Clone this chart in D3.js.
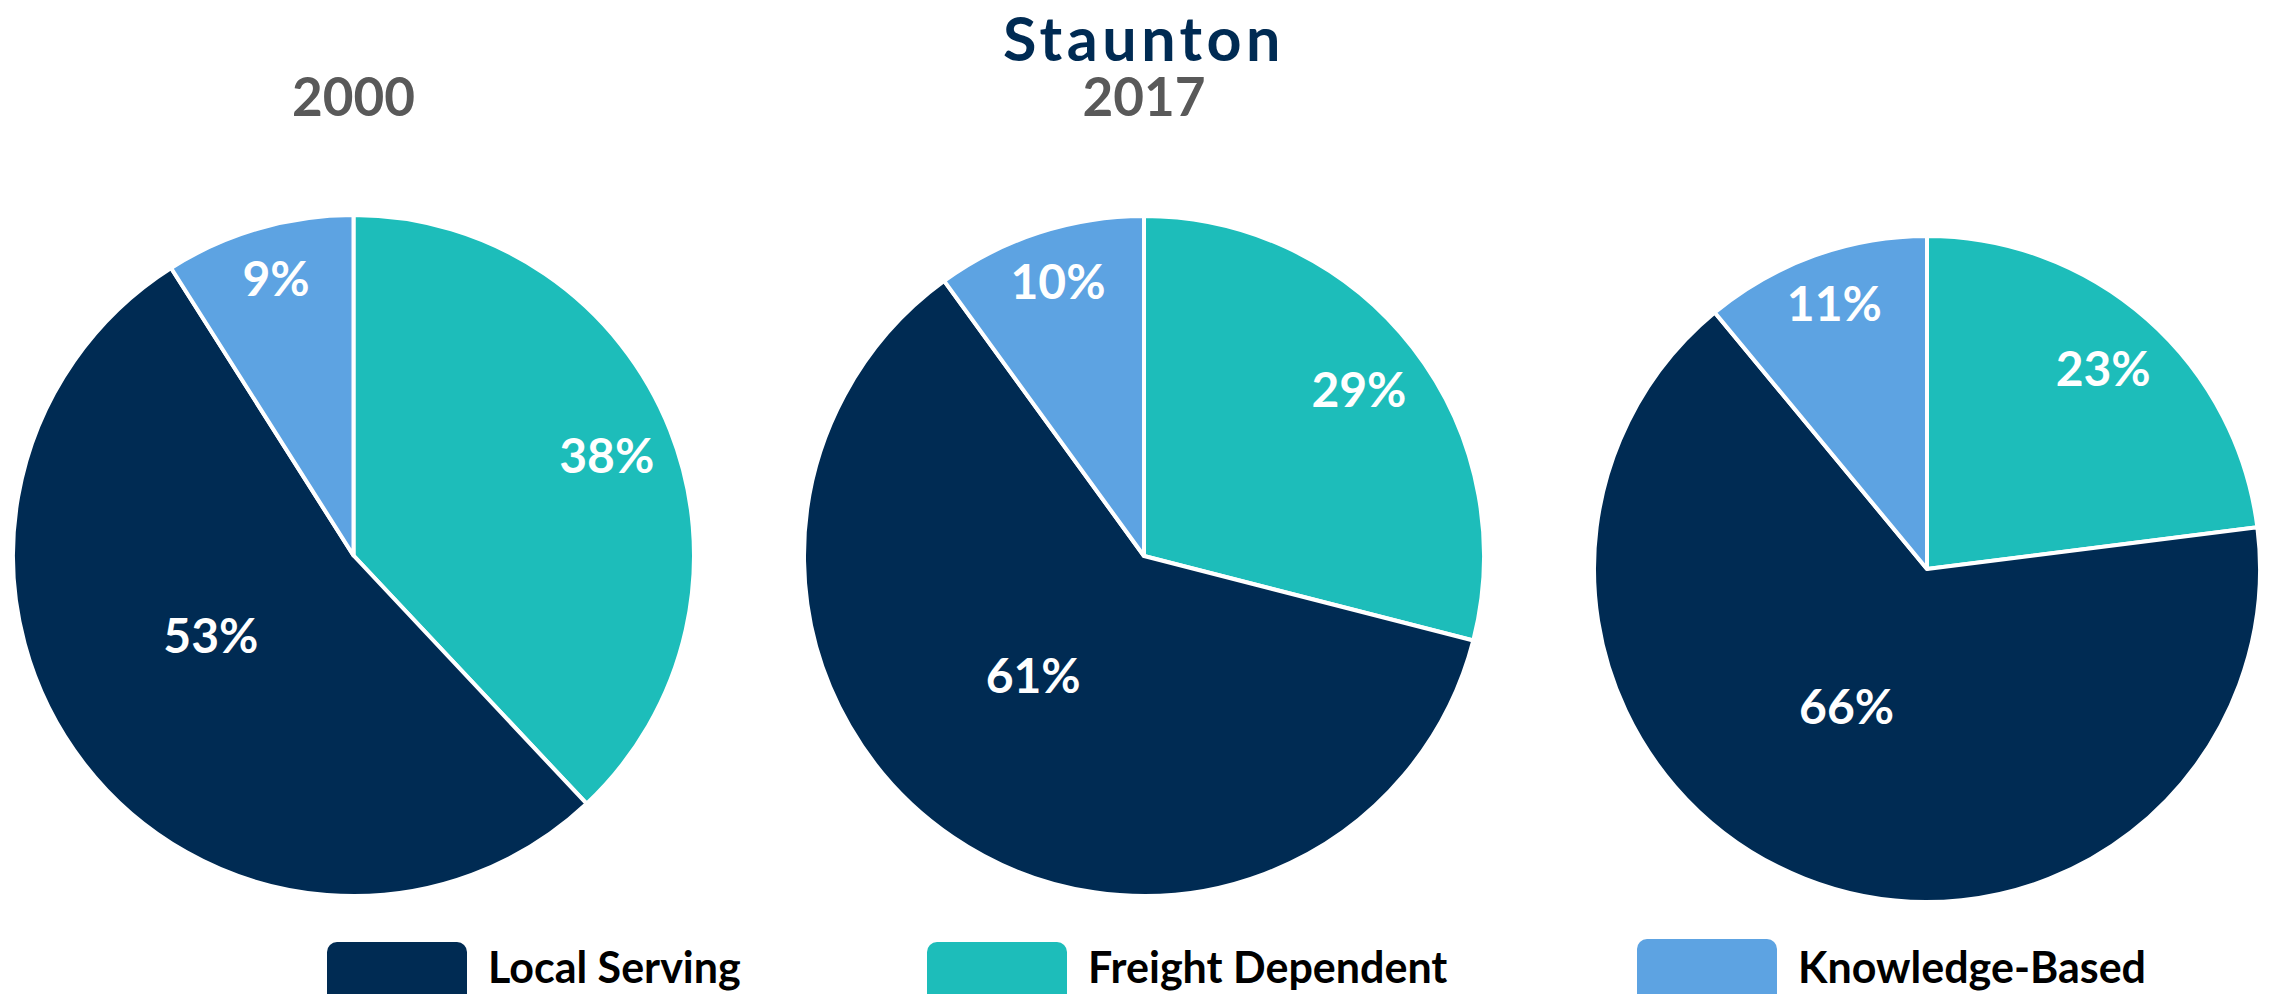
<!DOCTYPE html>
<html>
<head>
<meta charset="utf-8">
<script src="https://cdn.jsdelivr.net/npm/d3@7"></script>
<style>
  html, body { margin: 0; padding: 0; background: #ffffff; }
  svg { display: block; }
  text { font-family: Lato, "Open Sans", sans-serif; font-weight: 700; }
</style>
</head>
<body>
<svg id="chart" width="2269" height="994"></svg>
<script>
// Employment shares by sector, Staunton
const title = "Staunton";
const categories = ["Local Serving", "Freight Dependent", "Knowledge-Based"];
const sliceOrder = ["Freight Dependent", "Local Serving", "Knowledge-Based"]; // clockwise from 12 o'clock
const yearLabels = ["2000", "2017", ""];
const localServing     = [53, 61, 66];
const freightDependent = [38, 29, 23];
const knowledgeBased   = [9, 10, 11];

const colors = {
  "Local Serving": "#002B53",
  "Freight Dependent": "#1DBDBA",
  "Knowledge-Based": "#5DA3E2"
};

// label placement: fraction of radius and angular nudge (radians) per sector
const labelPlacement = {
  "Local Serving": { r: 0.48, nudge: 0.15 },
  "Freight Dependent": { r: 0.80, nudge: 0 },
  "Knowledge-Based": { r: 0.845, nudge: 0.01 }
};

// pie frames
const frames = [
  { cx: 353.5, cy: 555.5, r: 340.5 },
  { cx: 1144,  cy: 556,   r: 340 },
  { cx: 1927,  cy: 569,   r: 333 }
];

const svg = d3.select("#chart");

svg.append("text")
  .attr("x", 1144).attr("y", 61)
  .attr("text-anchor", "middle")
  .attr("fill", "#002B53")
  .attr("font-size", 61)
  .attr("letter-spacing", 4.5)
  .text(title);

const valueOf = (cat, i) =>
  cat === "Local Serving" ? localServing[i] :
  cat === "Freight Dependent" ? freightDependent[i] : knowledgeBased[i];

const pie = d3.pie().sort(null).value(d => d.value);

frames.forEach((f, i) => {
  const rows = sliceOrder.map(cat => ({ cat, value: valueOf(cat, i) }));
  const arcs = pie(rows);
  const arc = d3.arc().innerRadius(0).outerRadius(f.r);

  const g = svg.append("g").attr("transform", `translate(${f.cx},${f.cy})`);

  g.selectAll("path.slice")
    .data(arcs)
    .join("path")
    .attr("class", "slice")
    .attr("d", arc)
    .attr("fill", d => colors[d.data.cat])
    .attr("stroke", "#ffffff")
    .attr("stroke-width", 4)
    .attr("stroke-linejoin", "round");

  const labelPos = d => {
    const p = labelPlacement[d.data.cat];
    const a = (d.startAngle + d.endAngle) / 2 + p.nudge;
    return [Math.sin(a) * f.r * p.r, -Math.cos(a) * f.r * p.r];
  };

  g.selectAll("text.pct")
    .data(arcs)
    .join("text")
    .attr("class", "pct")
    .attr("x", d => labelPos(d)[0])
    .attr("y", d => labelPos(d)[1])
    .attr("dy", "0.36em")
    .attr("text-anchor", "middle")
    .attr("fill", "#ffffff")
    .attr("font-size", 48)
    .text(d => d.data.value + "%");

  if (yearLabels[i]) {
    svg.append("text")
      .attr("x", f.cx).attr("y", 116)
      .attr("text-anchor", "middle")
      .attr("fill", "#595959")
      .attr("font-size", 53)
      .text(yearLabels[i]);
  }
});

// legend
const legendX = [327, 927, 1637];
const legend = svg.append("g");
categories.forEach((cat, i) => {
  legend.append("rect")
    .attr("x", legendX[i]).attr("y", i === 2 ? 939 : 942)
    .attr("width", 140).attr("height", 80)
    .attr("rx", 10).attr("ry", 10)
    .attr("fill", colors[cat]);
  legend.append("text")
    .attr("x", legendX[i] + 161).attr("y", 983)
    .attr("fill", "#000000")
    .attr("font-size", 43)
    .text(cat);
});
</script>
</body>
</html>
